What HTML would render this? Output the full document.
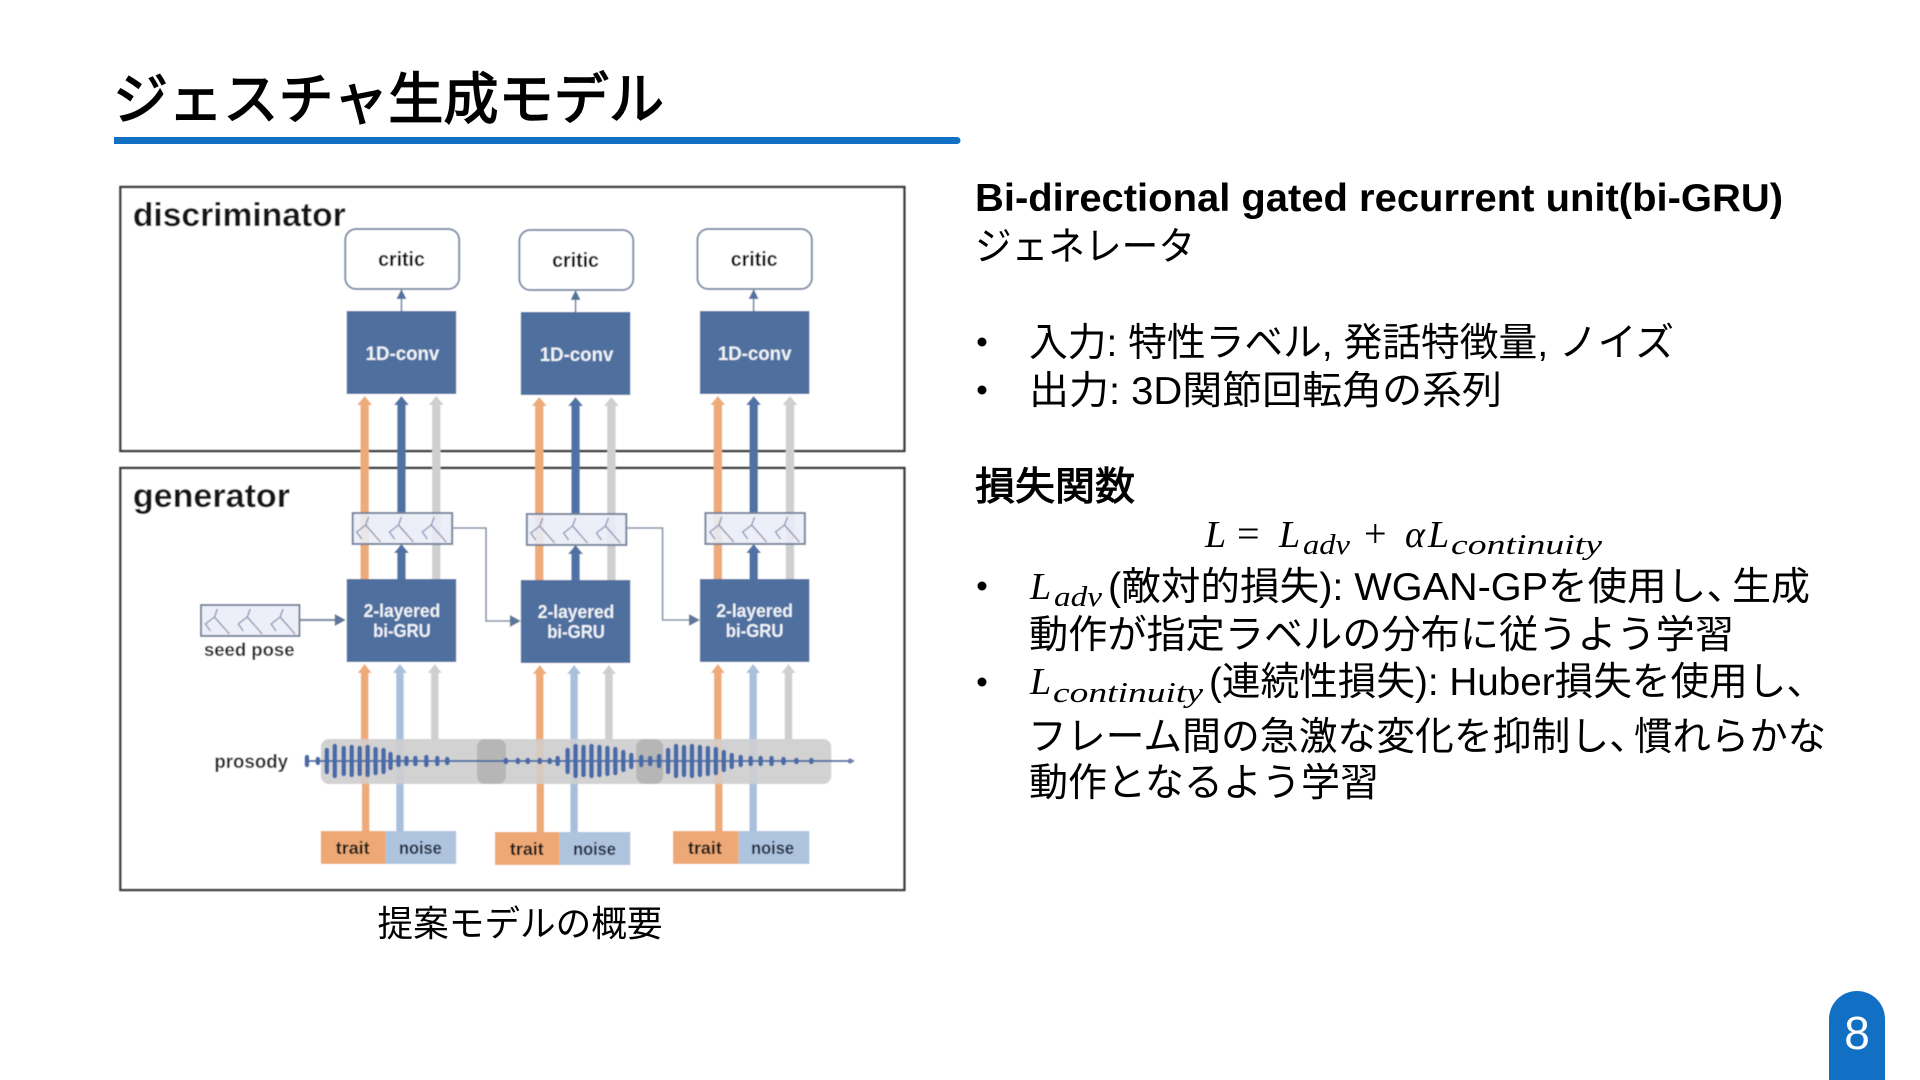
<!DOCTYPE html>
<html lang="ja">
<head>
<meta charset="utf-8">
<title>ジェスチャ生成モデル</title>
<style>
html,body{margin:0;padding:0;background:#fff;width:1920px;height:1080px;overflow:hidden}
svg{display:block;position:absolute;left:0;top:0}
text{font-family:"Liberation Sans","Noto Sans CJK JP",sans-serif;fill:#000}
.m{font-family:"Liberation Serif","DejaVu Serif",serif;font-style:italic}
.h{stroke:#000;stroke-width:1.5}
</style>
</head>
<body>
<svg width="1920" height="1080" viewBox="0 0 1920 1080" xmlns="http://www.w3.org/2000/svg">
<defs>
<filter id="b" x="-2%" y="-2%" width="104%" height="104%"><feGaussianBlur stdDeviation="0.6"/></filter>
<g id="p1" fill="none" stroke-width="1.4">
  <path stroke="#8e98b8" d="M16 4L13 12L4 19L9 26M13 12L21 21"/>
  <path stroke="#a899b0" d="M21 21L28 29"/>
</g>
<g id="fig">
  <use href="#p1" x="0" y="0"/>
  <use href="#p1" x="33" y="0"/>
  <use href="#p1" x="66" y="0"/>
</g>
</defs>

<rect width="1920" height="1080" fill="#fff"/>

<!-- title -->
<text class="h" x="113" y="119" font-size="56" textLength="551" lengthAdjust="spacingAndGlyphs">ジェスチャ生成モデル</text>
<path d="M114 137H957a3.5 3.5 0 0 1 0 7H114Z" fill="#1270c4"/>

<g filter="url(#b)" transform="translate(100 0) scale(0.9949 1) translate(-100 0)">
<!-- frames -->
<rect x="120.5" y="187" width="788" height="264" fill="#fff" stroke="#3a3a3a" stroke-width="2.4"/>
<rect x="120.5" y="468" width="788" height="422" fill="#fff" stroke="#3a3a3a" stroke-width="2.4"/>

<text x="133" y="226" font-size="33" font-weight="700" textLength="214" lengthAdjust="spacingAndGlyphs" style="fill:#141414">discriminator</text>
<text x="133" y="507" font-size="33" font-weight="700" textLength="158" lengthAdjust="spacingAndGlyphs" style="fill:#141414">generator</text>

<!-- band -->
<rect x="322" y="739" width="513" height="45" rx="8" fill="#d2d2d2"/>
<rect x="479" y="739" width="29" height="45" rx="8" fill="#b6b6b6"/>
<rect x="639" y="739" width="27" height="45" rx="8" fill="#b6b6b6"/>
<!-- faint shafts through band -->
<g fill="none" stroke-width="7.5" opacity="0.18">
  <path d="M366 739V784M542 739V784M721 739V784" stroke="#eeaa78"/>
  <path d="M401.5 739V784M576.5 739V784M756.5 739V784" stroke="#a9c0dc"/>
</g>

<!-- lower arrow shafts: band to GRU -->
<g fill="none" stroke-width="7.5">
  <path d="M366 739V672M542 739V673M721 739V672" stroke="#eeaa78"/>
  <path d="M401.5 739V672M576.5 739V673M756.5 739V672" stroke="#a9c0dc"/>
  <path d="M436.5 739V672M611.5 739V673M792 739V672" stroke="#cfcfcf"/>
  <path d="M367 784V831M542.5 784V832M722 784V831" stroke="#eeaa78"/>
  <path d="M401.5 784V831M576.5 784V832M756.5 784V831" stroke="#a9c0dc"/>
</g>
<g>
  <path d="M366 664l7 9h-14zM542 665l7 9h-14zM721 664l7 9h-14z" fill="#eeaa78"/>
  <path d="M401.5 664l7 9h-14zM576.5 665l7 9h-14zM756.5 664l7 9h-14z" fill="#a9c0dc"/>
  <path d="M436.5 664l7 9h-14zM611.5 665l7 9h-14zM792 664l7 9h-14z" fill="#cfcfcf"/>
</g>

<!-- upper arrow shafts -->
<g fill="none" stroke-width="8.4">
  <path d="M366 579V404M541.5 580V404M721 579V404" stroke="#eeaa78"/>
  <path d="M438 579V404M614 580V404M793.5 579V404" stroke="#cfcfcf"/>
  <path d="M403 513V404M578 513V404M757 513V404" stroke="#4f72a4"/>
  <path d="M403 579V552M578 580V552M757 579V552" stroke="#4f72a4"/>
</g>
<g>
  <path d="M366 396l7.5 9h-15zM541.5 397l7.5 9h-15zM721 396l7.5 9h-15z" fill="#eeaa78"/>
  <path d="M403 396l7.5 9h-15zM578 397l7.5 9h-15zM757 396l7.5 9h-15z" fill="#4f72a4"/>
  <path d="M438 396l7.5 9h-15zM614 397l7.5 9h-15zM793.5 396l7.5 9h-15z" fill="#cfcfcf"/>
  <path d="M403 544l7.5 9h-15zM578 545l7.5 9h-15zM757 544l7.5 9h-15z" fill="#4f72a4"/>
</g>

<!-- critic -->
<g fill="#fff" stroke="#7d8da8" stroke-width="2">
  <rect x="346.5" y="229" width="114.5" height="60" rx="11"/>
  <rect x="521.5" y="230" width="114.5" height="60" rx="11"/>
  <rect x="700.5" y="229" width="115" height="60" rx="11"/>
</g>
<g font-size="20" font-weight="700" text-anchor="middle">
  <text x="403" y="266" textLength="47" lengthAdjust="spacingAndGlyphs" style="fill:#111">critic</text>
  <text x="578" y="267" textLength="47" lengthAdjust="spacingAndGlyphs" style="fill:#111">critic</text>
  <text x="757.5" y="266" textLength="47" lengthAdjust="spacingAndGlyphs" style="fill:#111">critic</text>
</g>
<!-- critic arrows -->
<g stroke="#6d86ab" stroke-width="1.6" fill="none">
  <path d="M403 311V296M578 312V297M757 311V296"/>
</g>
<path d="M403 289l5 10h-10zM578 290l5 10h-10zM757 289l5 10h-10z" fill="#54739f"/>

<!-- 1D conv -->
<g fill="#4f6f9f">
  <rect x="348" y="311" width="110" height="83"/>
  <rect x="523" y="312" width="110" height="83"/>
  <rect x="703" y="311" width="110" height="83"/>
</g>
<g font-size="19.5" font-weight="700" text-anchor="middle">
  <text x="404" y="360" style="fill:#eef1f6" textLength="74" lengthAdjust="spacingAndGlyphs">1D-conv</text>
  <text x="579" y="361" style="fill:#eef1f6" textLength="74" lengthAdjust="spacingAndGlyphs">1D-conv</text>
  <text x="758" y="360" style="fill:#eef1f6" textLength="74" lengthAdjust="spacingAndGlyphs">1D-conv</text>
</g>

<!-- pose boxes -->
<g fill="#e9edf6" fill-opacity="0.88" stroke="#76839d" stroke-width="2">
  <rect x="354" y="513" width="100" height="31"/>
  <rect x="529" y="514" width="100" height="31"/>
  <rect x="708.5" y="513" width="100" height="31"/>
  <rect x="201.5" y="605" width="99" height="31"/>
</g>
<use href="#fig" x="354" y="513"/>
<use href="#fig" x="529" y="514"/>
<use href="#fig" x="709" y="513"/>
<use href="#fig" x="202" y="605"/>
<text x="250" y="656" font-size="18.5" font-weight="700" text-anchor="middle" style="fill:#2a2a2a" textLength="91" lengthAdjust="spacingAndGlyphs">seed pose</text>

<!-- connectors -->
<g fill="none" stroke="#7f8ea6" stroke-width="1.6">
  <path d="M455 528H488V621H516"/>
  <path d="M630 528H665.5V620H696"/>
</g>
<path d="M301 620H338" fill="none" stroke="#7f8ea6" stroke-width="2.2"/>
<path d="M347 620l-11-6v12zM523 621l-11-6v12zM703 620l-11-6v12z" fill="#5d7699"/>

<!-- GRU -->
<g fill="#4f6f9f">
  <rect x="348" y="579" width="110" height="83"/>
  <rect x="523" y="580" width="110" height="83"/>
  <rect x="703" y="579" width="110" height="83"/>
</g>
<g font-size="18.5" font-weight="700" text-anchor="middle">
  <text x="403.5" y="617" style="fill:#eef1f6" textLength="77" lengthAdjust="spacingAndGlyphs">2-layered</text>
  <text x="403.5" y="637" style="fill:#eef1f6" textLength="58" lengthAdjust="spacingAndGlyphs">bi-GRU</text>
  <text x="578.5" y="618" style="fill:#eef1f6" textLength="77" lengthAdjust="spacingAndGlyphs">2-layered</text>
  <text x="578.5" y="638" style="fill:#eef1f6" textLength="58" lengthAdjust="spacingAndGlyphs">bi-GRU</text>
  <text x="758" y="617" style="fill:#eef1f6" textLength="77" lengthAdjust="spacingAndGlyphs">2-layered</text>
  <text x="758" y="637" style="fill:#eef1f6" textLength="58" lengthAdjust="spacingAndGlyphs">bi-GRU</text>
</g>

<!-- waveform -->
<path fill="none" stroke="#4f6fa5" stroke-width="2" d="M307 761H858"/>
<path fill="none" stroke="#4a6aa8" stroke-width="4.5" stroke-linecap="round" d="
M308 757V765 M319 759V763
M328 750V772 M336 746V776 M345 748V774 M353 747V775 M361 748V774 M369 747V775 M377 749V773 M385 750V772
M392 754V768 M400 757V765 M408 758V764 M417 758V764 M428 757V765 M439 758V764 M449 759V763
M508 760V762 M520 760V762 M530 760V762 M542 760V762 M552 760V762 M560 758V764
M570 750V772 M578 746V776 M586 747V775 M594 746V776 M602 747V775 M610 748V774 M618 749V773 M626 752V770 M634 755V767 M644 757V765 M653 758V764 M662 756V766
M671 750V772 M679 746V776 M687 747V775 M695 746V776 M703 747V775 M711 748V774 M719 749V773 M727 752V770 M735 755V767 M744 757V765 M754 758V764 M764 758V764 M775 758V764 M787 759V763 M800 760V762 M815 760V762"/>
<circle cx="854" cy="761" r="2.6" fill="#6b82a8"/>
<text x="215" y="768" font-size="19.5" font-weight="700" style="fill:#2a2a2a" textLength="74" lengthAdjust="spacingAndGlyphs">prosody</text>

<!-- trait/noise -->
<g fill="#eea874">
  <rect x="322" y="831" width="65" height="33"/>
  <rect x="497" y="832" width="65" height="33"/>
  <rect x="676" y="831" width="66" height="33"/>
</g>
<g fill="#aec3de">
  <rect x="387" y="831" width="71" height="33"/>
  <rect x="562" y="832" width="71" height="33"/>
  <rect x="742" y="831" width="71" height="33"/>
</g>
<g font-size="18" font-weight="700" text-anchor="middle">
  <text x="354" y="854" textLength="34" lengthAdjust="spacingAndGlyphs" style="fill:#1a1a1a">trait</text>
  <text x="422" y="854" textLength="43" lengthAdjust="spacingAndGlyphs" style="fill:#1f2c40">noise</text>
  <text x="529" y="855" textLength="34" lengthAdjust="spacingAndGlyphs" style="fill:#1a1a1a">trait</text>
  <text x="597" y="855" textLength="43" lengthAdjust="spacingAndGlyphs" style="fill:#1f2c40">noise</text>
  <text x="708" y="854" textLength="34" lengthAdjust="spacingAndGlyphs" style="fill:#1a1a1a">trait</text>
  <text x="776" y="854" textLength="43" lengthAdjust="spacingAndGlyphs" style="fill:#1f2c40">noise</text>
</g>
</g>

<!-- caption -->
<text x="377.5" y="936" font-size="36" textLength="285" lengthAdjust="spacingAndGlyphs">提案モデルの概要</text>

<!-- right text -->
<text x="975" y="211" font-size="38.5" font-weight="700" textLength="808" lengthAdjust="spacingAndGlyphs">Bi-directional gated recurrent unit(bi-GRU)</text>
<text x="975" y="260" font-size="39" textLength="220" lengthAdjust="spacingAndGlyphs">ジェネレータ</text>

<circle cx="982" cy="342" r="4.5" fill="#000"/>
<text x="1029" y="356" font-size="39" textLength="645" lengthAdjust="spacingAndGlyphs">入力: 特性ラベル, 発話特徴量, ノイズ</text>
<circle cx="982" cy="390" r="4.5" fill="#000"/>
<text x="1029" y="404" font-size="39" textLength="473" lengthAdjust="spacingAndGlyphs">出力: 3D関節回転角の系列</text>

<text class="h" x="975" y="500" font-size="39" textLength="160" lengthAdjust="spacingAndGlyphs" style="stroke-width:1">損失関数</text>

<!-- formula -->
<text class="m" x="1205" y="547" font-size="38">L</text>
<text x="1237" y="547" font-size="40" style="font-family:'Liberation Serif',serif">=</text>
<text class="m" x="1279" y="547" font-size="38">L</text>
<text class="m" x="1303" y="554" font-size="28" textLength="47" lengthAdjust="spacingAndGlyphs">adv</text>
<text x="1364" y="547" font-size="40" style="font-family:'Liberation Serif',serif">+</text>
<text class="m" x="1405" y="547" font-size="38">α</text>
<text class="m" x="1428" y="547" font-size="38">L</text>
<text class="m" x="1451" y="554" font-size="28" textLength="151" lengthAdjust="spacingAndGlyphs">continuity</text>

<!-- bullet 1 -->
<circle cx="982" cy="586" r="4.5" fill="#000"/>
<text class="m" x="1030" y="599" font-size="38">L</text>
<text class="m" x="1054" y="606" font-size="28" textLength="48" lengthAdjust="spacingAndGlyphs">adv</text>
<text x="1108" y="600" font-size="39" textLength="638" lengthAdjust="spacingAndGlyphs">(敵対的損失): WGAN-GPを使用し、</text>
<text x="1732" y="600" font-size="39" textLength="78" lengthAdjust="spacingAndGlyphs">生成</text>
<text x="1029" y="648" font-size="39" textLength="705" lengthAdjust="spacingAndGlyphs">動作が指定ラベルの分布に従うよう学習</text>

<!-- bullet 2 -->
<circle cx="982" cy="682" r="4.5" fill="#000"/>
<text class="m" x="1030" y="694" font-size="38">L</text>
<text class="m" x="1053" y="702" font-size="28" textLength="150" lengthAdjust="spacingAndGlyphs">continuity</text>
<text x="1209" y="695" font-size="39" textLength="616" lengthAdjust="spacingAndGlyphs">(連続性損失): Huber損失を使用し、</text>
<text x="1028" y="750" font-size="39" textLength="620" lengthAdjust="spacingAndGlyphs">フレーム間の急激な変化を抑制し、</text>
<text x="1634" y="750" font-size="39" textLength="192" lengthAdjust="spacingAndGlyphs">慣れらかな</text>
<text x="1029" y="796" font-size="39" textLength="350" lengthAdjust="spacingAndGlyphs">動作となるよう学習</text>

<!-- page number -->
<path d="M1829 1080V1019a28 28 0 0 1 56 0V1080Z" fill="#1270c4"/>
<text x="1857" y="1049" font-size="46" text-anchor="middle" style="fill:#fff">8</text>
</svg>
</body>
</html>
